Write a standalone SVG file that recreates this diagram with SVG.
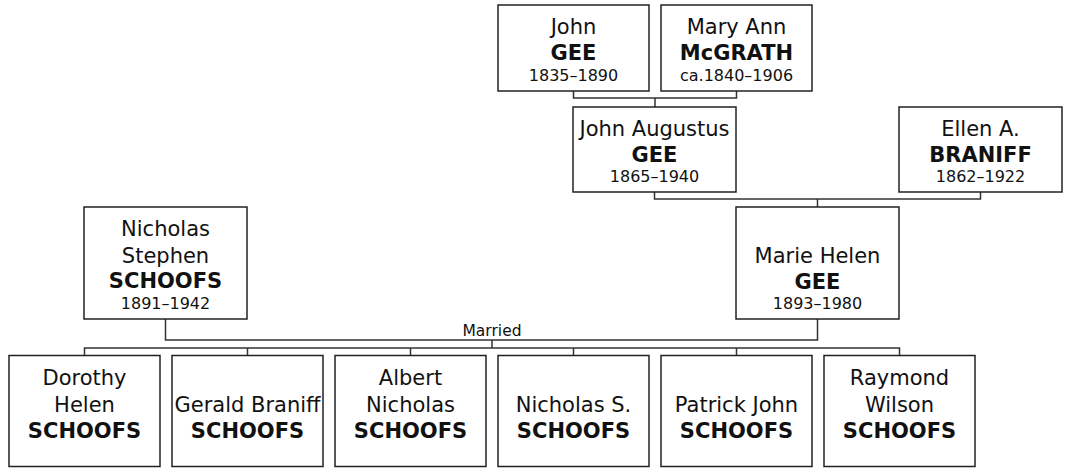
<svg xmlns="http://www.w3.org/2000/svg" width="1066" height="468" viewBox="0 0 1066 468">
<style>
.box{fill:#fff;stroke:#222;stroke-width:1.5}
.ln{fill:none;stroke:#333;stroke-width:1.5}
text{font-family:"DejaVu Sans",Verdana,sans-serif;fill:#111;text-anchor:middle}
.n{font-size:21px}
.b{font-size:21px;font-weight:bold}
.y{font-size:16px}
.m{font-size:15.5px}
</style>
<rect width="1066" height="468" fill="#fff"/>
<g id="connectors">
<path class="ln" d="M573.5,91V98H736.5V91M655,98V107"/>
<path class="ln" d="M654.5,192V199H980.5V192M817.5,199V207"/>
<path class="ln" d="M165.5,319V340H817.5V319M492,340V348"/>
<path class="ln" d="M84.5,355V348H899.5V355M247.5,348V355M410.5,348V355M573.5,348V355M736.5,348V355"/>
<text class="m" x="492" y="335.5">Married</text>
</g>
<g id="john-gee">
<rect class="box" x="498" y="5" width="151" height="86"/>
<text class="n" x="573.5" y="34">John</text>
<text class="b" x="573.5" y="60">GEE</text>
<text class="y" x="573.5" y="81">1835–1890</text>
</g>
<g id="mary-ann-mcgrath">
<rect class="box" x="661" y="5" width="151" height="86"/>
<text class="n" x="736.5" y="34">Mary Ann</text>
<text class="b" x="736.5" y="60">McGRATH</text>
<text class="y" x="736.5" y="81">ca.1840–1906</text>
</g>
<g id="john-augustus-gee">
<rect class="box" x="573" y="107" width="163" height="85"/>
<text class="n" x="654.5" y="135.5">John Augustus</text>
<text class="b" x="654.5" y="161.5">GEE</text>
<text class="y" x="654.5" y="182">1865–1940</text>
</g>
<g id="ellen-braniff">
<rect class="box" x="899" y="107" width="163" height="85"/>
<text class="n" x="980.5" y="135.5">Ellen A.</text>
<text class="b" x="980.5" y="161.5">BRANIFF</text>
<text class="y" x="980.5" y="182">1862–1922</text>
</g>
<g id="nicholas-stephen-schoofs">
<rect class="box" x="84" y="207" width="163" height="112"/>
<text class="n" x="165.5" y="236">Nicholas</text>
<text class="n" x="165.5" y="262.5">Stephen</text>
<text class="b" x="165.5" y="288">SCHOOFS</text>
<text class="y" x="165.5" y="309">1891–1942</text>
</g>
<g id="marie-helen-gee">
<rect class="box" x="736" y="207" width="163" height="112"/>
<text class="n" x="817.5" y="263">Marie Helen</text>
<text class="b" x="817.5" y="289">GEE</text>
<text class="y" x="817.5" y="309">1893–1980</text>
</g>
<g id="dorothy-helen-schoofs">
<rect class="box" x="9" y="355.5" width="151" height="111"/>
<text class="n" x="84.5" y="385">Dorothy</text>
<text class="n" x="84.5" y="411.5">Helen</text>
<text class="b" x="84.5" y="437.5">SCHOOFS</text>
</g>
<g id="gerald-braniff-schoofs">
<rect class="box" x="172" y="355.5" width="151" height="111"/>
<text class="n" x="247.5" y="411.5">Gerald Braniff</text>
<text class="b" x="247.5" y="437.5">SCHOOFS</text>
</g>
<g id="albert-nicholas-schoofs">
<rect class="box" x="335" y="355.5" width="151" height="111"/>
<text class="n" x="410.5" y="385">Albert</text>
<text class="n" x="410.5" y="411.5">Nicholas</text>
<text class="b" x="410.5" y="437.5">SCHOOFS</text>
</g>
<g id="nicholas-s-schoofs">
<rect class="box" x="498" y="355.5" width="151" height="111"/>
<text class="n" x="573.5" y="411.5">Nicholas S.</text>
<text class="b" x="573.5" y="437.5">SCHOOFS</text>
</g>
<g id="patrick-john-schoofs">
<rect class="box" x="661" y="355.5" width="151" height="111"/>
<text class="n" x="736.5" y="411.5">Patrick John</text>
<text class="b" x="736.5" y="437.5">SCHOOFS</text>
</g>
<g id="raymond-wilson-schoofs">
<rect class="box" x="824" y="355.5" width="151" height="111"/>
<text class="n" x="899.5" y="385">Raymond</text>
<text class="n" x="899.5" y="411.5">Wilson</text>
<text class="b" x="899.5" y="437.5">SCHOOFS</text>
</g>
</svg>
